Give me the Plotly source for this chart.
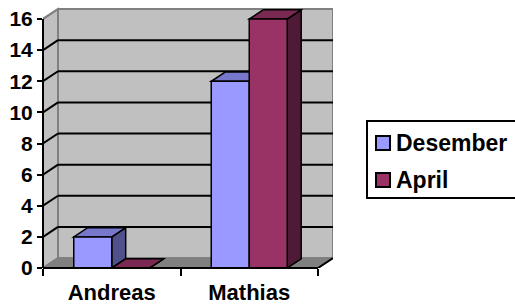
import plotly.graph_objects as go

# ---- data ----
CATEGORIES = ["Andreas", "Mathias"]
SERIES = ["Desember", "April"]
DESEMBER = [2, 12]
APRIL = [0, 16]
Y_TICKS = [0, 2, 4, 6, 8, 10, 12, 14, 16]

VALUES = [DESEMBER, APRIL]
FRONT = ["#9999FF", "#993366"]
TOP = ["#7777CC", "#7A2952"]
SIDE = ["#50508A", "#4F1A36"]

W, H = 515, 305
def px(x): return x / W
def py(y): return 1 - y / H

# pixel frame of the front plane
X_LEFT, X_RIGHT = 43, 318
Y_ZERO, Y_MAX = 268, 19
DEPTH_PX_X, DEPTH_PX_Y = 15, 10
PLOT_TOP = 5
YMAX = 16
unit_px = (Y_ZERO - Y_MAX) / YMAX
cat_px = (X_RIGHT - X_LEFT) / len(CATEGORIES)
DX = DEPTH_PX_X / cat_px
DY = DEPTH_PX_Y / unit_px
BDX, BDY = DX * 0.93, DY * 0.92
BAR_W = 38 / cat_px
y_top = (Y_ZERO - PLOT_TOP) / unit_px
x_lo, x_hi = -0.5, len(CATEGORIES) - 0.5

fig = go.Figure()
shapes = []

def poly(pts, fill, line="black", lw=1.5):
    d = "M" + " L".join(f"{x},{y}" for x, y in pts) + " Z"
    return dict(type="path", path=d, xref="x", yref="y", fillcolor=fill,
                line=dict(color=line, width=lw), layer="below")

# back wall
shapes.append(dict(type="rect", xref="x", yref="y", x0=x_lo + DX, x1=x_hi + DX,
                   y0=DY, y1=YMAX + DY, fillcolor="#C0C0C0",
                   line=dict(color="#808080", width=2), layer="below"))
# left wall
shapes.append(poly([(x_lo, 0), (x_lo, YMAX), (x_lo + DX, YMAX + DY), (x_lo + DX, DY)],
                   "#C0C0C0", "#808080", 2))
# floor
shapes.append(poly([(x_lo, 0), (x_hi, 0), (x_hi + DX, DY), (x_lo + DX, DY)],
                   "#808080", "#808080", 1.5))
shapes.append(dict(type="line", xref="x", yref="y", x0=x_hi, y0=0, x1=x_hi + DX, y1=DY,
                   line=dict(color="black", width=2), layer="below"))
# gridlines
for t in Y_TICKS[1:-1]:
    shapes.append(dict(type="line", xref="x", yref="y", x0=x_lo, y0=t, x1=x_lo + DX, y1=t + DY,
                       line=dict(color="black", width=2), layer="below"))
    shapes.append(dict(type="line", xref="x", yref="y", x0=x_lo + DX, y0=t + DY, x1=x_hi + DX, y1=t + DY,
                       line=dict(color="black", width=2), layer="below"))
# top diagonal of the y axis
shapes.append(dict(type="line", xref="x", yref="y", x0=x_lo, y0=YMAX, x1=x_lo + DX, y1=YMAX + DY,
                   line=dict(color="#808080", width=2), layer="below"))

# bars: front faces as bar traces, top/side faces as shapes
for i, (name, vals) in enumerate(zip(SERIES, VALUES)):
    off = -BAR_W + i * BAR_W
    fig.add_trace(go.Bar(x=list(range(len(CATEGORIES))), y=vals, width=BAR_W, offset=off,
                         name=name, marker=dict(color=FRONT[i], line=dict(color="black", width=1.5)),
                         hoverinfo="skip", showlegend=False))
    for j, v in enumerate(vals):
        xl = j + off
        xr = xl + BAR_W
        shapes.append(poly([(xr, 0), (xr, v), (xr + BDX, v + BDY), (xr + BDX, BDY)], SIDE[i]))
        shapes.append(poly([(xl, v), (xr, v), (xr + BDX, v + BDY), (xl + BDX, v + BDY)], TOP[i]))

# dummy trace to show the display axes
fig.add_trace(go.Scatter(x=CATEGORIES, y=[0, 0], xaxis="x2", yaxis="y2", mode="markers",
                         marker=dict(opacity=0), hoverinfo="skip", showlegend=False))

# custom legend
LEG_Y = [143, 180]
shapes.append(dict(type="rect", xref="paper", yref="paper", x0=px(367), x1=px(522),
                   y0=py(198), y1=py(121), line=dict(color="black", width=2),
                   fillcolor="white"))
annotations = []
for i, name in enumerate(SERIES):
    yc = LEG_Y[i]
    shapes.append(dict(type="rect", xref="paper", yref="paper", x0=px(376), x1=px(390),
                       y0=py(yc + 7), y1=py(yc - 7), fillcolor=FRONT[i],
                       line=dict(color="black", width=2)))
    annotations.append(dict(xref="paper", yref="paper", x=px(394), y=py(yc), text=name,
                            showarrow=False, xanchor="left", yanchor="middle",
                            font=dict(family="Liberation Sans, Arial", size=23, color="black",
                                      weight="bold")))

font = dict(family="Liberation Sans, Arial", size=21, color="black", weight="bold")

fig.update_layout(
    width=W, height=H, margin=dict(l=0, r=0, t=0, b=0, pad=0, autoexpand=False),
    paper_bgcolor="white", plot_bgcolor="rgba(0,0,0,0)",
    barmode="overlay", showlegend=False,
    shapes=shapes, annotations=annotations,
    xaxis=dict(domain=[px(X_LEFT), px(X_RIGHT + DEPTH_PX_X)], range=[x_lo, x_hi + DX],
               visible=False, fixedrange=True, automargin=False),
    yaxis=dict(domain=[py(Y_ZERO), py(PLOT_TOP)], range=[0, y_top], visible=False,
               fixedrange=True, automargin=False),
    xaxis2=dict(domain=[px(X_LEFT), px(X_RIGHT)], type="category",
                categoryorder="array", categoryarray=CATEGORIES, range=[x_lo, x_hi],
                anchor="free", position=py(Y_ZERO), showline=True, linecolor="black",
                linewidth=2, ticks="outside", tickson="boundaries", ticklen=7,
                tickwidth=2, tickcolor="black", showgrid=False, zeroline=False,
                automargin=False, fixedrange=True,
                tickfont=dict(family="Liberation Sans, Arial", size=22, color="black",
                              weight="bold"), ticklabelstandoff=5),
    yaxis2=dict(domain=[py(Y_ZERO), py(Y_MAX)], range=[0, YMAX], tickvals=Y_TICKS,
                anchor="free", position=px(X_LEFT), showline=True, linecolor="black",
                linewidth=2, ticks="outside", ticklen=5, tickwidth=2, tickcolor="black",
                showgrid=False, zeroline=False, automargin=False, fixedrange=True,
                tickfont=font),
)

fig.write_html("out.html", config={"displayModeBar": False},
               post_script="document.body.style.margin='0';document.body.style.overflow='hidden';")
